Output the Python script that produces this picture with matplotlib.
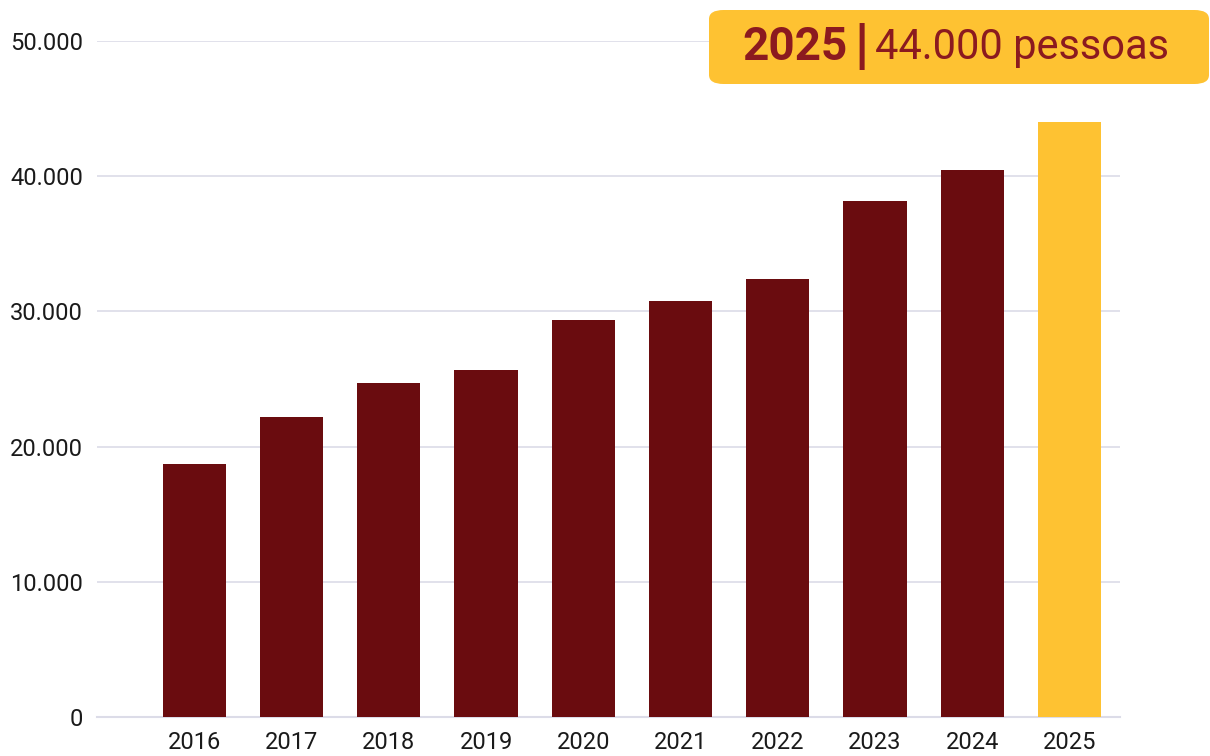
import matplotlib.pyplot as plt
from matplotlib.patches import FancyBboxPatch
from matplotlib.ticker import FuncFormatter

plt.rcParams['font.family'] = ['Roboto', 'DejaVu Sans']

# dados
anos = ['2016', '2017', '2018', '2019', '2020', '2021', '2022', '2023', '2024', '2025']
pessoas = [18700, 22200, 24700, 25700, 29400, 30800, 32400, 38200, 40500, 44000]

vinho = '#6a0c0f'
amarelo = '#fec232'
texto_caixa = '#8b1a1f'
cinza_grade = '#dcdce8'

fig = plt.figure(figsize=(12.1, 7.56), dpi=100)
ax = fig.add_axes([0.0802, 0.0516, 0.8455, 0.894])

cores = [vinho] * (len(anos) - 1) + [amarelo]
x = range(len(anos))
ax.bar(x, pessoas, width=0.65, color=cores, zorder=3)

ax.set_xlim(-1.0, 9.52)
ax.set_ylim(0, 50000)
ax.set_yticks([0, 10000, 20000, 30000, 40000, 50000])
ax.yaxis.set_major_formatter(FuncFormatter(lambda v, p: f'{int(v):,}'.replace(',', '.')))
ax.set_xticks(list(x))
ax.set_xticklabels(anos)

ax.grid(axis='y', color=cinza_grade, linewidth=1.2, zorder=0)
for lado in ['top', 'right', 'left']:
    ax.spines[lado].set_visible(False)
ax.spines['bottom'].set_color(cinza_grade)
ax.spines['bottom'].set_linewidth(1.5)
ax.tick_params(axis='both', length=0, labelsize=17, colors='#1a1a1a')
ax.tick_params(axis='y', pad=10)
ax.tick_params(axis='x', pad=10)

# caixa de destaque do último ano (em coordenadas da figura)
caixa = FancyBboxPatch((709 / 1210, 1 - 84 / 756), 500 / 1210, 74 / 756,
                       boxstyle='round,pad=0,rounding_size=0.012',
                       transform=fig.transFigure, facecolor=amarelo,
                       edgecolor='none', zorder=5, clip_on=False)
ax.add_patch(caixa)

t1 = ax.text(742 / 1210, 1 - 47 / 756, '2025', transform=fig.transFigure,
             fontsize=33, fontweight='bold', color=texto_caixa,
             va='center', ha='left', zorder=6, clip_on=False)
t2 = ax.annotate('|', xy=(1, 0.5), xycoords=t1, xytext=(5, 0), textcoords='offset points',
                 fontsize=40, fontweight='heavy', color=texto_caixa, va='center', ha='left',
                 annotation_clip=False, zorder=6)
ax.annotate('44.000 pessoas', xy=(1, 0.5), xycoords=t2, xytext=(5, 0), textcoords='offset points',
            fontsize=30, color=texto_caixa, va='center', ha='left',
            annotation_clip=False, zorder=6)

fig.savefig('out.png', dpi=100)
